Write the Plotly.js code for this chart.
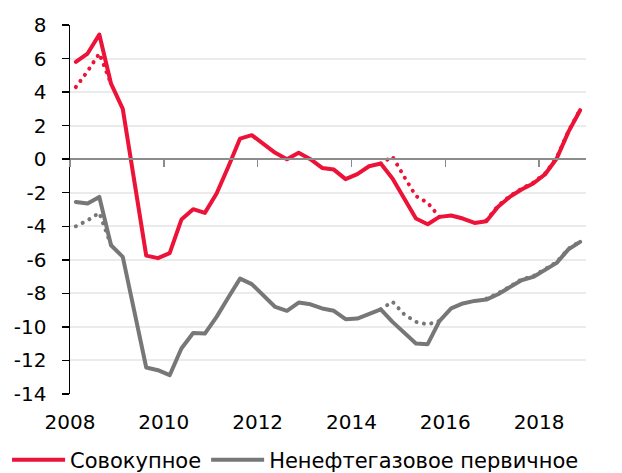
<!DOCTYPE html>
<html>
<head>
<meta charset="utf-8">
<script src="https://cdn.plot.ly/plotly-3.0.1.min.js"></script>
<style>
  html, body { margin: 0; padding: 0; background: #fff; }
  #chart { width: 622px; height: 473px; }
  .scatterlayer path.js-line { stroke-linecap: round; stroke-linejoin: round; }
</style>
</head>
<body>
<div id="chart"></div>
<script>
// Quarterly data, 2008Q1 .. 2018Q4
var startYear = 2008;
var quarterCount = 44;

var seriesNames = ["Совокупное", "Ненефтегазовое первичное"];

var totalBalance = [5.8, 6.3, 7.43, 4.5, 3.0, -1.5, -5.75, -5.9, -5.6, -3.6, -2.98, -3.2,
  -2.05, -0.45, 1.23, 1.43, 0.94, 0.38, 0.0, 0.38, 0.0, -0.52, -0.62, -1.19,
  -0.89, -0.42, -0.26, -1.15, -2.35, -3.54, -3.88, -3.44, -3.36, -3.54, -3.8, -3.7,
  -2.84, -2.25, -1.81, -1.45, -0.91, 0.04, 1.63, 2.92];

var totalBalanceAlt = [4.3, 5.25, 6.3, 4.5, null, null, null, null, null, null, null, null,
  null, null, null, null, null, null, null, null, null, null, null, null,
  null, null, -0.26, 0.15, -1.05, -2.2, -2.6, -3.44, null, null, null, -3.65,
  -2.78, -2.2, -1.76, -1.4, -0.86, 0.08, 1.66, 2.95];

var nonOilBalance = [-2.55, -2.64, -2.25, -5.13, -5.82, -9.1, -12.42, -12.58, -12.88, -11.29, -10.36, -10.4,
  -9.4, -8.25, -7.12, -7.45, -8.15, -8.81, -9.04, -8.55, -8.65, -8.9, -9.04, -9.54,
  -9.5, -9.24, -8.95, -9.7, -10.36, -10.99, -11.03, -9.65, -8.9, -8.6, -8.45, -8.37,
  -8.05, -7.65, -7.22, -7.02, -6.62, -6.18, -5.38, -4.93];

var nonOilBalanceAlt = [-4.0, -3.65, -3.2, -5.13, null, null, null, null, null, null, null, null,
  null, null, null, null, null, null, null, null, null, null, null, null,
  null, null, -8.95, -8.5, -9.25, -9.7, -9.85, -9.65, null, null, null, -8.32,
  -8.0, -7.6, -7.17, -6.97, -6.58, -6.14, -5.34, -4.9];

var yTickVals = [8, 6, 4, 2, 0, -2, -4, -6, -8, -10, -12, -14];
var yTickText = ["8", "6", "4", "2", "0", "-2", "-4", "-6", "-8", "-10", "-12", "-14"];
var xTickVals = [2008, 2010, 2012, 2014, 2016, 2018];
var xTickText = ["2008", "2010", "2012", "2014", "2016", "2018"];

// x position of each quarter (mid-quarter)
var xq = [];
for (var i = 0; i < quarterCount; i++) {
  var yr = startYear + Math.floor(i / 4);
  var q = (i % 4) + 1;
  xq.push(yr + (q - 0.5) / 4);
}

var RED = "#EC1238";
var GRAY = "#77777A";
var FONT = "DejaVu Sans, Liberation Sans, Arial, sans-serif";

var traces = [
  { x: xq, y: totalBalanceAlt, type: "scatter", mode: "lines", xaxis: "x2", yaxis: "y",
    line: { color: RED, width: 4, dash: "0.1px,7.5px" }, showlegend: false, hoverinfo: "skip", connectgaps: false },
  { x: xq, y: nonOilBalanceAlt, type: "scatter", mode: "lines", xaxis: "x2", yaxis: "y",
    line: { color: GRAY, width: 4, dash: "0.1px,7.5px" }, showlegend: false, hoverinfo: "skip", connectgaps: false },
  { x: xq, y: totalBalance, type: "scatter", mode: "lines", name: seriesNames[0],
    line: { color: RED, width: 4 } },
  { x: xq, y: nonOilBalance, type: "scatter", mode: "lines", name: seriesNames[1],
    line: { color: GRAY, width: 4 } }
];

var xr = [2008, 2019];
var yr0 = [-14, 8];

var layout = {
  width: 622, height: 473,
  margin: { l: 70, r: 36, t: 25, b: 79, pad: 0, autoexpand: false },
  paper_bgcolor: "#ffffff",
  plot_bgcolor: "#ffffff",
  font: { family: FONT, size: 20, color: "#000" },
  showlegend: true,
  legend: {
    orientation: "h",
    x: -0.122, xanchor: "left", y: -0.179, yanchor: "middle",
    font: { family: FONT, size: 21, color: "#000" },
    itemwidth: 53, traceorder: "normal", tracegroupgap: 0,
    bgcolor: "rgba(0,0,0,0)"
  },
  xaxis: {
    type: "linear", range: xr, fixedrange: true,
    tickvals: xTickVals, ticktext: xTickText,
    showline: false, zeroline: false, showgrid: false, ticks: "",
    tickfont: { family: FONT, size: 20, color: "#000" },
    ticklabelstandoff: 14
  },
  xaxis2: {
    type: "linear", range: xr, overlaying: "x", anchor: "free",
    position: (0 - yr0[0]) / (yr0[1] - yr0[0]),
    side: "bottom", showline: true, linecolor: "#8C8C8C", linewidth: 2,
    ticks: "outside", ticklen: 7, tickwidth: 1.5, tickcolor: "#8C8C8C",
    tickvals: xTickVals, showticklabels: false, showgrid: false, zeroline: false
  },
  yaxis: {
    range: yr0, fixedrange: true,
    tickvals: yTickVals, ticktext: yTickText,
    showline: true, linecolor: "#000", linewidth: 1.5,
    ticks: "outside", ticklen: 7, tickwidth: 1.5, tickcolor: "#000",
    showgrid: true, gridcolor: "#EBEBEB", gridwidth: 2,
    zeroline: false,
    tickfont: { family: FONT, size: 20, color: "#000" },
    ticklabelstandoff: 11
  }
};

Plotly.newPlot("chart", traces, layout, { displayModeBar: false, staticPlot: true });
</script>
</body>
</html>
